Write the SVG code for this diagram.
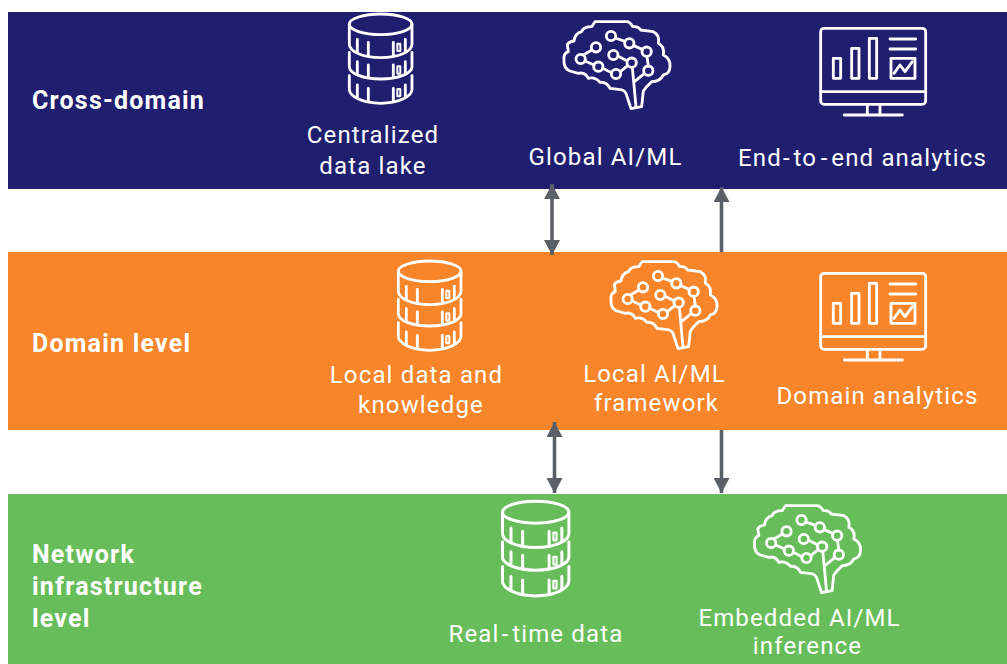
<svg xmlns="http://www.w3.org/2000/svg" width="1007" height="664" viewBox="0 0 1007 664">
<style>
.band{stroke:none}
.ic{fill:none;stroke:#fff;stroke-width:8.5;stroke-linejoin:round;stroke-linecap:round}
.sl{stroke-width:6}
.t{font-family:"Roboto","Liberation Sans",sans-serif;font-size:24px;fill:#fff;text-anchor:middle;letter-spacing:1.15px}
.h{font-family:"Roboto","Liberation Sans",sans-serif;font-size:25px;font-weight:700;fill:#fff;letter-spacing:1.2px}
.c{fill:none;stroke:#5a5f68;stroke-width:3.6}
.hy{letter-spacing:4px}
</style>
<defs>
<marker id="ah" markerUnits="userSpaceOnUse" markerWidth="15" markerHeight="16" refX="15" refY="8" orient="auto-start-reverse" viewBox="0 0 15 16"><path d="M0 0L15 8L0 16Z" fill="#5a5f68"/></marker>
<g id="db" class="ic">
<ellipse cx="152" cy="43" rx="94" ry="31"/>
<path d="M58 43V103C58 125 100 143 152 143S246 125 246 103V43"/>
<path d="M58 127V170C58 190 100 207 152 207S246 190 246 170V127"/>
<path d="M58 197V238C58 260 100 280 152 280S246 260 246 238V197"/>
<path d="M82 88V128M115 97V136M190 97V136M226 88V126M82 155V194M115 165V203M190 165V203M226 155V192M82 225V264M115 235V274M190 235V274M226 225V262"/>
<rect class="sl" x="202" y="101" width="9" height="22" rx="1"/><rect class="sl" x="202" y="169" width="9" height="22" rx="1"/><rect class="sl" x="202" y="237" width="9" height="22" rx="1"/>
</g>
<g id="brain" class="ic">
<path d="M243 296L228 250Q222 238 205 238L180 235Q170 215 150 217Q135 200 115 205Q105 185 85 190L60 183Q40 175 42 150Q40 130 55 125L52 105Q55 95 72 93Q75 70 95 65Q100 50 125 50L135 35H230Q240 35 248 50Q265 48 272 60L310 65Q330 75 325 100Q345 110 340 135Q362 145 360 170Q360 190 340 195Q330 215 305 215L290 230L280 243L275 290Z"/>
<path d="M196 84L225 94M251 107L277 118M291 139L295 168M283 191L253 215M247 172L258 290M204 139L231 152M233 167L211 185M185 188L158 175M132 165L105 153M100 135L126 120"/>
<circle cx="183" cy="78" r="14"/><circle cx="238" cy="100" r="14"/><circle cx="290" cy="125" r="14"/><circle cx="295" cy="182" r="14"/><circle cx="245" cy="158" r="14"/><circle cx="190" cy="135" r="14"/><circle cx="198" cy="192" r="14"/><circle cx="145" cy="170" r="14"/><circle cx="92" cy="147" r="14"/><circle cx="138" cy="112" r="14"/>
</g>
<g id="mon" class="ic">
<rect x="47" y="40" width="315" height="228" rx="10"/>
<path d="M47 230H362M187 268V300M225 268V300M118 300H292"/>
<rect x="85" y="130" width="22" height="60"/><rect x="140" y="100" width="22" height="90"/><rect x="193" y="70" width="22" height="120"/>
<path d="M255 72H332M255 102H332"/><rect x="258" y="130" width="72" height="60"/>
<path d="M267 175L285 150L300 170L322 140"/>
</g>
</defs>
<rect id="band-cross" class="band" x="8" y="12" width="999" height="177" fill="#201e6f"/>
<rect id="band-domain" class="band" x="8" y="252" width="999" height="178" fill="#f9852a"/>
<rect id="band-infra" class="band" x="8" y="494" width="999" height="170" fill="#68bd5b"/>
<g id="connectors">
<line class="c" x1="552" y1="184" x2="552" y2="255" marker-start="url(#ah)" marker-end="url(#ah)"/>
<line class="c" x1="721.5" y1="252" x2="721.5" y2="187" marker-end="url(#ah)"/>
<line class="c" x1="554.5" y1="422" x2="554.5" y2="493" marker-start="url(#ah)" marker-end="url(#ah)"/>
<line class="c" x1="721.5" y1="430" x2="721.5" y2="493" marker-end="url(#ah)"/>
</g>
<g id="cross-domain"><text class="h" x="32" y="109">Cross-domain</text></g>
<g id="domain-level"><text class="h" x="32" y="352">Domain level</text></g>
<g id="infra-level"><text class="h" x="32" y="563">Network</text><text class="h" x="32" y="595">infrastructure</text><text class="h" x="32" y="627">level</text></g>
<g id="data-lake"><use href="#db" transform="translate(330,10) scale(.3333)"/><text class="t" x="373" y="143">Centralized</text><text class="t" x="373" y="174">data lake</text></g>
<g id="global-ai"><use href="#brain" transform="translate(550,10) scale(.3333)"/><text class="t" x="605.5" y="165">Global AI/ML</text></g>
<g id="e2e"><use href="#mon" transform="translate(805,15) scale(.3333)"/><text class="t" x="862.5" y="166">End<tspan class="hy" dx="1">-</tspan>to<tspan class="hy" dx="3.5">-</tspan>end analytics</text></g>
<g id="local-data"><use href="#db" transform="translate(379,257) scale(.3333)"/><text class="t" x="416.5" y="383">Local data and</text><text class="t" x="421" y="413">knowledge</text></g>
<g id="local-ai"><use href="#brain" transform="translate(597,250) scale(.3333)"/><text class="t" x="654.5" y="382">Local AI/ML</text><text class="t" x="656.5" y="411">framework</text></g>
<g id="domain-analytics"><use href="#mon" transform="translate(805,260) scale(.3333)"/><text class="t" x="877.5" y="404">Domain analytics</text></g>
<g id="real-time"><use href="#db" transform="translate(482,497) scale(.3533)"/><text class="t" x="536" y="642">Real<tspan class="hy" dx="2">-</tspan>time data</text></g>
<g id="embedded"><use href="#brain" transform="translate(740.5,494) scale(.3333)"/><text class="t" x="799.5" y="626">Embedded AI/ML</text><text class="t" x="807.5" y="654">inference</text></g>
</svg>
